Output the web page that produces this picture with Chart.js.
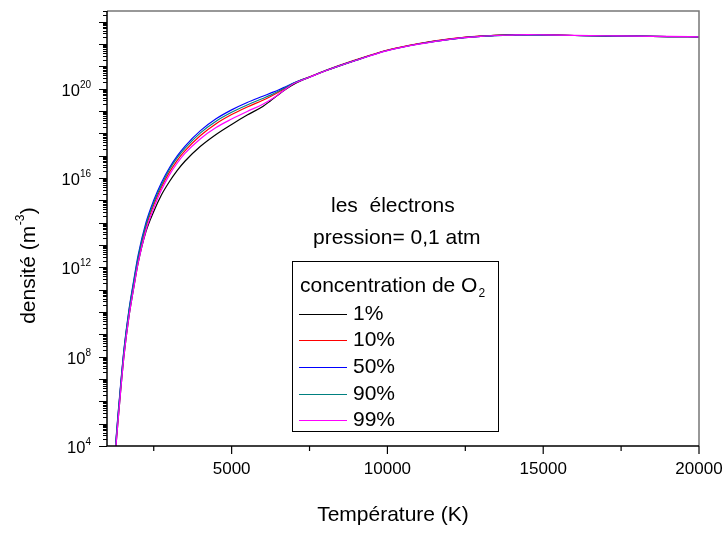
<!DOCTYPE html>
<html>
<head>
<meta charset="utf-8">
<script src="https://cdn.jsdelivr.net/npm/chart.js@4.4.0/dist/chart.umd.min.js"></script>
<style>
  html, body { margin: 0; padding: 0; background: #fff; }
  #wrap { width: 726px; height: 539px; }
</style>
</head>
<body>
<div id="wrap"><canvas id="densityChart"></canvas></div>
<script>
// Temperature grid (K) and log10 of electron density (m^-3)
const temperature = [1275, 1350, 1450, 1550, 1700, 1850, 2000, 2250, 2500, 2750, 3000, 3250, 3500, 4000, 4500, 5000, 5500, 6000, 6250, 6500, 6750, 7000, 7500, 8000, 9000, 10000, 11000, 12000, 13000, 14000, 14500, 15000, 16000, 17000, 18000, 19000, 20000];

const logN_1pc  = [3.8, 5.05, 6.65, 8.1, 9.75, 11.02, 12.2, 13.6, 14.5, 15.25, 15.83, 16.33, 16.75, 17.42, 17.95, 18.4, 18.82, 19.2, 19.46, 19.73, 19.98, 20.2, 20.51, 20.79, 21.28, 21.72, 22.01, 22.22, 22.35, 22.41, 22.42, 22.41, 22.38, 22.36, 22.35, 22.33, 22.32];
const logN_10pc = [3.95, 5.25, 6.85, 8.3, 9.92, 11.2, 12.35, 13.8, 14.8, 15.6, 16.25, 16.78, 17.21, 17.9, 18.43, 18.84, 19.18, 19.48, 19.65, 19.84, 20.04, 20.24, 20.53, 20.81, 21.3, 21.73, 22.02, 22.23, 22.35, 22.41, 22.42, 22.41, 22.38, 22.36, 22.35, 22.33, 22.32];
const logN_50pc = [4.05, 5.35, 6.95, 8.4, 10.05, 11.35, 12.55, 14.0, 15.0, 15.8, 16.45, 16.98, 17.42, 18.12, 18.65, 19.05, 19.38, 19.66, 19.8, 19.94, 20.1, 20.26, 20.52, 20.8, 21.28, 21.71, 22.0, 22.21, 22.34, 22.4, 22.41, 22.4, 22.38, 22.36, 22.35, 22.33, 22.32];
const logN_90pc = [4.0, 5.3, 6.9, 8.35, 10.0, 11.28, 12.45, 13.9, 14.9, 15.7, 16.37, 16.9, 17.33, 18.02, 18.54, 18.94, 19.27, 19.56, 19.71, 19.88, 20.06, 20.25, 20.52, 20.8, 21.28, 21.71, 22.0, 22.21, 22.34, 22.4, 22.41, 22.4, 22.38, 22.36, 22.35, 22.33, 22.32];
const logN_99pc = [3.8, 5.05, 6.65, 8.1, 9.75, 11.02, 12.2, 13.65, 14.65, 15.47, 16.13, 16.66, 17.1, 17.76, 18.26, 18.64, 18.98, 19.3, 19.5, 19.74, 20.0, 20.23, 20.51, 20.79, 21.27, 21.7, 21.99, 22.21, 22.34, 22.4, 22.42, 22.41, 22.39, 22.37, 22.35, 22.34, 22.32];

const seriesLabels = ["1%", "10%", "50%", "90%", "99%"];
const seriesColors = ["#000000", "#ff0000", "#0000ff", "#008080", "#ff00ff"];
const seriesData = [logN_1pc, logN_10pc, logN_50pc, logN_90pc, logN_99pc];

const xMajorTicks = [5000, 10000, 15000, 20000];
const xMinorTicks = [2500, 7500, 12500, 17500];
const yLabelExponents = [4, 8, 12, 16, 20];

const FONT = '"Liberation Sans", Arial, sans-serif';

const datasets = seriesData.map((vals, i) => ({
  label: seriesLabels[i],
  data: temperature.map((t, j) => ({ x: t, y: Math.pow(10, vals[j]) })),
  borderColor: seriesColors[i],
  borderWidth: 1.2,
  pointRadius: 0,
  fill: false,
  cubicInterpolationMode: "monotone",
  order: 5 - i,
}));

// draws frame, ticks, labels and the legend box
const decorations = {
  id: "decorations",
  afterDraw(chart) {
    const ctx = chart.ctx;
    const area = chart.chartArea;
    const xs = chart.scales.x;
    const ys = chart.scales.y;
    ctx.save();

    // frame
    ctx.lineWidth = 1.5;
    ctx.strokeStyle = "#777";
    ctx.beginPath();
    ctx.moveTo(area.left, area.top);
    ctx.lineTo(area.right, area.top);
    ctx.lineTo(area.right, area.bottom);
    ctx.stroke();
    ctx.strokeStyle = "#000";
    ctx.beginPath();
    ctx.moveTo(area.left, area.top);
    ctx.lineTo(area.left, area.bottom);
    ctx.lineTo(area.right, area.bottom);
    ctx.stroke();

    // x ticks
    ctx.lineWidth = 1.2;
    xMajorTicks.forEach((v) => {
      const px = xs.getPixelForValue(v);
      ctx.beginPath();
      ctx.moveTo(px, area.bottom);
      ctx.lineTo(px, area.bottom + 8);
      ctx.stroke();
    });
    xMinorTicks.forEach((v) => {
      const px = xs.getPixelForValue(v);
      ctx.beginPath();
      ctx.moveTo(px, area.bottom);
      ctx.lineTo(px, area.bottom + 5);
      ctx.stroke();
    });

    // y ticks (decades + 2..9 minors)
    ctx.lineWidth = 1;
    for (let e = 4; e <= 23; e++) {
      for (let m = 1; m <= 9; m++) {
        const v = m * Math.pow(10, e);
        if (v > ys.max * 1.0001) break;
        const py = Math.round(ys.getPixelForValue(v)) + 0.5;
        const len = m === 1 ? 8 : 4;
        ctx.beginPath();
        ctx.moveTo(area.left, py);
        ctx.lineTo(area.left - len, py);
        ctx.stroke();
      }
    }

    // x tick labels
    ctx.fillStyle = "#000";
    ctx.font = "17px " + FONT;
    ctx.textAlign = "center";
    ctx.textBaseline = "middle";
    xMajorTicks.forEach((v) => {
      ctx.fillText(String(v), xs.getPixelForValue(v), 469);
    });

    // y tick labels 10^n
    ctx.textAlign = "left";
    ctx.textBaseline = "alphabetic";
    yLabelExponents.forEach((e) => {
      const py = ys.getPixelForValue(Math.pow(10, e));
      ctx.font = "10px " + FONT;
      const ew = ctx.measureText(String(e)).width;
      ctx.font = "16.5px " + FONT;
      const bw = ctx.measureText("10").width;
      const right = 91;
      ctx.fillText("10", right - ew - bw, py + 7);
      ctx.font = "10px " + FONT;
      ctx.fillText(String(e), right - ew, py - 1);
    });

    // axis titles
    ctx.font = "21px " + FONT;
    ctx.textAlign = "center";
    ctx.fillText("Température (K)", 393, 521);

    ctx.save();
    ctx.translate(35, 266);
    ctx.rotate(-Math.PI / 2);
    ctx.textAlign = "left";
    ctx.font = "21px " + FONT;
    const partA = "densité (m";
    const wA = ctx.measureText(partA).width;
    ctx.font = "12px " + FONT;
    const wS = ctx.measureText("-3").width;
    ctx.font = "21px " + FONT;
    const wC = ctx.measureText(")").width;
    let x0 = -(wA + wS + wC) / 2;
    ctx.fillText(partA, x0, 0);
    ctx.font = "12px " + FONT;
    ctx.fillText("-3", x0 + wA + 0.5, -11);
    ctx.font = "21px " + FONT;
    ctx.fillText(")", x0 + wA + wS + 1, 0);
    ctx.restore();

    // annotations
    ctx.textAlign = "left";
    ctx.font = "21px " + FONT;
    ctx.fillText("les  électrons", 331, 212);
    ctx.fillText("pression= 0,1 atm", 313, 243.5);

    // legend box
    ctx.lineWidth = 1;
    ctx.strokeStyle = "#000";
    ctx.strokeRect(292.5, 261.5, 206, 170);
    ctx.fillText("concentration de O", 300, 292);
    const tw = ctx.measureText("concentration de O").width;
    ctx.font = "12px " + FONT;
    ctx.fillText("2", 300 + tw + 1, 297);
    ctx.font = "21px " + FONT;
    seriesLabels.forEach((lab, i) => {
      const base = 319.5 + i * 26.7;
      const ly = Math.round(base - 6) + 0.5;
      ctx.strokeStyle = seriesColors[i];
      ctx.lineWidth = 1;
      ctx.beginPath();
      ctx.moveTo(299, ly);
      ctx.lineTo(347, ly);
      ctx.stroke();
      ctx.fillText(lab, 353, base);
    });

    ctx.restore();
  },
};

const ctx = document.getElementById("densityChart").getContext("2d");
const densityChart = new Chart(ctx, {
  type: "line",
  data: { datasets: datasets },
  options: {
    responsive: true,
    maintainAspectRatio: false,
    animation: false,
    layout: { padding: { top: 11, right: 27, left: 0, bottom: 0 } },
    plugins: {
      legend: { display: false },
      tooltip: { enabled: false },
    },
    scales: {
      x: {
        type: "linear",
        min: 1000,
        max: 20000,
        grid: { display: false, drawTicks: false },
        border: { display: false },
        ticks: { display: false },
        afterFit: (s) => { s.height = 93; },
      },
      y: {
        type: "logarithmic",
        min: 1e4,
        max: 3e23,
        grid: { display: false, drawTicks: false },
        border: { display: false },
        ticks: { display: false },
        afterFit: (s) => { s.width = 107; },
      },
    },
  },
  plugins: [decorations],
});
</script>
</body>
</html>
